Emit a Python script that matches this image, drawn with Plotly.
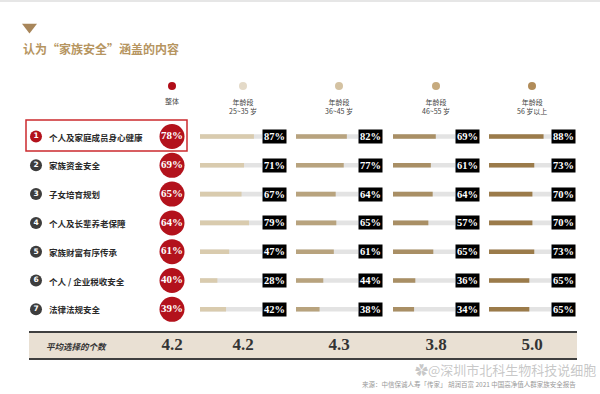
import plotly.graph_objects as go

# ---------------- data ----------------
items = ["个人及家庭成员身心健康", "家族资金安全", "子女培育规划", "个人及长辈养老保障",
         "家族财富有序传承", "个人 / 企业税收安全", "法律法规安全"]
overall = [78, 69, 65, 64, 61, 40, 39]
age_headers = ["25~35 岁", "36~45 岁", "46~55 岁", "56 岁以上"]
age_25_35 = [87, 71, 67, 79, 47, 28, 42]
age_36_45 = [82, 77, 64, 65, 61, 44, 38]
age_46_55 = [69, 61, 64, 57, 65, 36, 34]
age_56_up = [88, 73, 70, 70, 73, 65, 65]
avg_label = "平均选择的个数"
avg_counts = [4.2, 4.2, 4.3, 3.8, 5.0]
title = "认为“家族安全”涵盖的内容"
source = "来源：中信保诚人寿「传家」 胡润百富 2021 中国高净值人群家族安全报告"

# ---------------- layout constants ----------------
W, H = 600, 394
rows = list(range(len(items)))
ages = [age_25_35, age_36_45, age_46_55, age_56_up]
track_start = [200, 296, 393, 489]
track_w = 62
col_x = [172, 243, 339, 436, 532]
bar_colors = ["#d9cbae", "#b8a37e", "#a98f65", "#9b7b4a"]
dot_colors = ["#b00d18", "#e4dac8", "#d4c2a2", "#c6aa7e", "#b18c59"]
RED = "#b3121c"
SERIF = "Liberation Serif"
CJK = "Noto Sans CJK SC"

row0_px, row_step = 136.5, 28.8
y_top_px = row0_px - row_step / 2
y_bot_px = row0_px + row_step * (len(items) - 0.5)
ydom = [1 - y_bot_px / H, 1 - y_top_px / H]

fig = go.Figure()

# age bars
for k, vals in enumerate(ages):
    ax = "x%d" % (k + 2)
    fig.add_trace(go.Bar(x=[100] * len(vals), y=rows, orientation="h", width=0.16,
                         marker=dict(color="#e3e3e3", line=dict(width=0)),
                         xaxis=ax, yaxis="y", hoverinfo="skip"))
    fig.add_trace(go.Bar(x=vals, y=rows, orientation="h", width=0.16,
                         marker=dict(color=bar_colors[k], line=dict(width=0)),
                         xaxis=ax, yaxis="y"))
    for i, v in enumerate(vals):
        fig.add_annotation(x=100, y=i, xref=ax, yref="y", xanchor="left", yanchor="middle",
                           text="%d%%" % v, showarrow=False, bgcolor="#000000", borderpad=1,
                           font=dict(family=SERIF, size=10.5, color="white", weight="bold"))

# overall red circles
fig.add_trace(go.Scatter(x=[col_x[0]] * len(overall), y=rows, mode="markers+text",
                         text=["%d%%" % v for v in overall], textposition="middle center",
                         marker=dict(size=25, color=RED, line=dict(width=0)),
                         textfont=dict(family=SERIF, size=11, color="white", weight="bold"),
                         xaxis="x", yaxis="y"))

# row number circles
fig.add_trace(go.Scatter(x=[36] * len(items), y=rows, mode="markers+text",
                         text=[str(i + 1) for i in rows], textposition="middle center",
                         marker=dict(size=12, color=[RED] + ["#3d3d3d"] * (len(items) - 1)),
                         textfont=dict(family="DejaVu Sans", size=7.5, color="white", weight="bold"),
                         xaxis="x", yaxis="y"))

for i, name in enumerate(items):
    fig.add_annotation(x=47, y=i, xref="x", yref="y", xanchor="left", yanchor="middle",
                       text=name, showarrow=False,
                       font=dict(family=CJK, size=8.5, color="#2a2a2a", weight="bold"))

# header dots
fig.add_trace(go.Scatter(x=col_x, y=[86] * 5, mode="markers",
                         marker=dict(size=8, color=dot_colors), xaxis="x", yaxis="y2"))
fig.add_annotation(x=col_x[0], y=101, xref="x", yref="y2", text="整体", showarrow=False,
                   font=dict(family=CJK, size=7, color="#444"))
for k, lab in enumerate(age_headers):
    fig.add_annotation(x=col_x[k + 1], y=106, xref="x", yref="y2", text="年龄段<br>" + lab,
                       showarrow=False, font=dict(family=CJK, size=7, color="#444"))

# title
fig.add_trace(go.Scatter(x=[29.5], y=[27], mode="markers", xaxis="x", yaxis="y2",
                         marker=dict(symbol="triangle-down", size=13, color="#a8865a")))
fig.add_annotation(x=21, y=48, xref="x", yref="y2", xanchor="left", text=title, showarrow=False,
                   font=dict(family=CJK, size=12, color="#b6955f", weight="bold"))

# highlight box around first row
fig.add_shape(type="rect", x0=26, x1=187, y0=120, y1=151, xref="x", yref="y2",
              line=dict(color="#cc2a2e", width=1.5), fillcolor="rgba(0,0,0,0)")

# average band
fig.add_shape(type="rect", x0=29, x1=577, y0=332, y1=359, xref="x", yref="y2",
              line=dict(width=0), fillcolor="#e9e0d3", layer="below")
for yy in (332, 359):
    fig.add_shape(type="line", x0=29, x1=577, y0=yy, y1=yy, xref="x", yref="y2",
                  line=dict(color="#3f3f3f", width=2))
fig.add_annotation(x=76, y=346, xref="x", yref="y2", text="<i>" + avg_label + "</i>", showarrow=False,
                   font=dict(family=CJK, size=8.5, color="#333", weight="bold"))
fig.add_trace(go.Scatter(x=col_x, y=[346] * 5, mode="text", xaxis="x", yaxis="y2",
                         text=["%.1f" % v for v in avg_counts], textposition="middle center",
                         textfont=dict(family=SERIF, size=17, color="#333", weight="bold")))

# source & watermark
fig.add_annotation(x=598, y=369, xref="x", yref="y2", xanchor="right", yanchor="middle",
                   text="✿@深圳市北科生物科技说细胞", showarrow=False,
                   font=dict(family=CJK, size=13, color="rgba(175,175,175,0.7)"))
fig.add_annotation(x=578, y=384, xref="x", yref="y2", xanchor="right", yanchor="middle",
                   text=source, showarrow=False,
                   font=dict(family=CJK, size=6.5, color="#999"))

fig.add_shape(type="line", x0=0, x1=600, y0=1, y1=1, xref="x", yref="y2",
              line=dict(color="#e6e6e6", width=2))

layout = dict(
    width=W, height=H, margin=dict(l=0, r=0, t=0, b=0), showlegend=False,
    barmode="overlay", paper_bgcolor="white", plot_bgcolor="rgba(0,0,0,0)",
    xaxis=dict(domain=[0, 1], range=[0, W], visible=False, fixedrange=True, anchor="y2"),
    yaxis=dict(domain=ydom, range=[len(items) - 0.5, -0.5], visible=False, anchor="x"),
    yaxis2=dict(domain=[0, 1], range=[H, 0], visible=False, anchor="x"),
)
for k, s in enumerate(track_start):
    layout["xaxis%d" % (k + 2)] = dict(domain=[s / W, (s + track_w) / W], range=[0, 100],
                                       visible=False, anchor="y")
fig.update_layout(**layout)
fig.write_html("out.html")
